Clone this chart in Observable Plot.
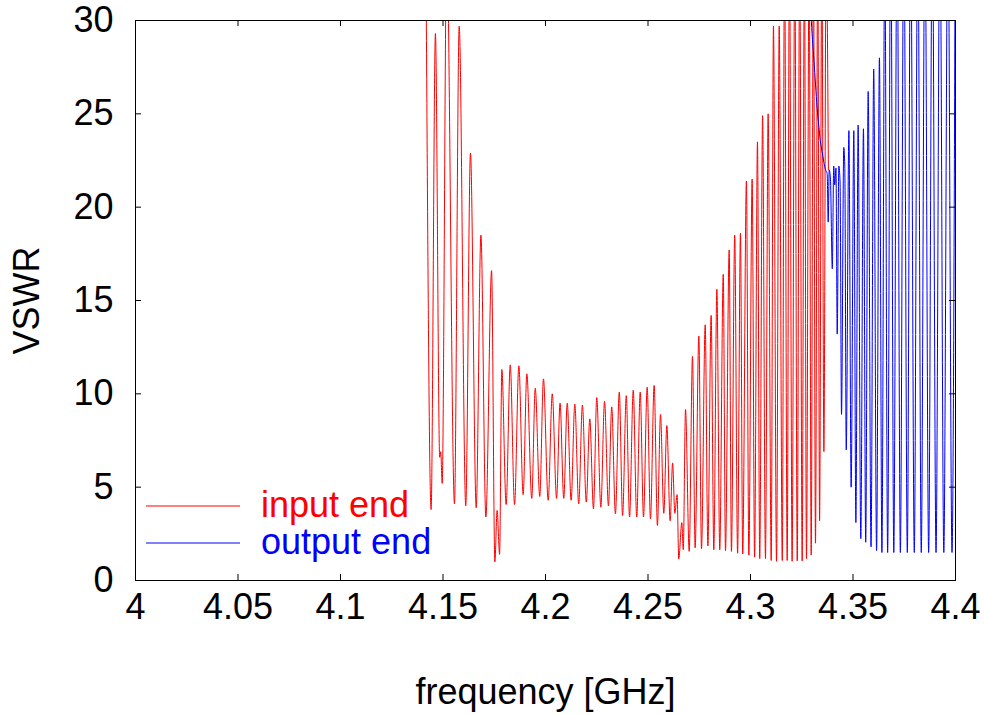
<!DOCTYPE html>
<html><head><meta charset="utf-8">
<script src="https://cdn.jsdelivr.net/npm/d3@7"></script>
<script src="https://cdn.jsdelivr.net/npm/@observablehq/plot@0.6"></script>
<style>body{margin:0;background:#fff}</style>
</head><body><div id="chart"></div>
<script>
// input end (red): frequency [GHz] of successive extrema and VSWR there
const inputFreq = [4.1417,4.1442,4.1463,4.1484,4.1489,4.1496,4.1518,4.1556,4.1579,4.1611,4.1634,4.1662,4.1685,4.1709,4.1737,4.1753,4.1764,4.1776,4.1787,4.1808,4.1828,4.1849,4.1870,4.1891,4.1909,4.1933,4.1950,4.1972,4.1990,4.2013,4.2033,4.2054,4.2071,4.2089,4.2106,4.2125,4.2143,4.2162,4.2180,4.2199,4.2216,4.2234,4.2250,4.2270,4.2288,4.2307,4.2323,4.2341,4.2360,4.2376,4.2394,4.2410,4.2428,4.2445,4.2462,4.2478,4.2496,4.2512,4.2530,4.2546,4.2561,4.2577,4.2592,4.2608,4.2620,4.2631,4.2642,4.2650,4.2665,4.2672,4.2683,4.2701,4.2717,4.2730,4.2748,4.2761,4.2779,4.2792,4.2808,4.2821,4.2836,4.2850,4.2867,4.2878,4.2896,4.2907,4.2923,4.2937,4.2951,4.2962,4.2980,4.2992,4.3008,4.3020,4.3034,4.3045,4.3059,4.3073,4.3086,4.3101,4.3112,4.3127,4.3140,4.3155,4.3166,4.3179,4.3190,4.3203,4.3216,4.3228,4.3240,4.3252,4.3263,4.3273,4.3286,4.3296,4.3307,4.3317,4.3328,4.3337,4.3348,4.3358,4.3369,4.3380];
const inputVswr = [33,3.8,29.3,6.6,6.9,5.2,34,4.1,29.7,4.0,22.9,3.9,18.5,3.4,16.6,1.0,3.75,1.4,11.3,4.07,11.55,4.07,11.5,4.6,11.07,4.4,10.3,4.5,10.8,4.3,10.0,4.4,9.5,4.4,9.5,4.3,9.45,4.1,9.4,4.2,8.66,3.84,9.8,3.93,9.6,4.0,9.3,3.57,10.1,3.48,9.9,3.4,10.2,3.4,10.1,3.4,10.36,3.3,10.45,2.95,8.9,3.6,8.3,3.2,6.3,3.6,4.6,1.16,3.1,1.65,9.16,1.56,12.0,1.75,13.1,1.7,13.7,1.85,14.2,1.65,15.6,1.65,16.4,1.6,17.7,1.56,18.5,1.46,18.6,1.42,21.4,1.36,21.5,1.25,23.5,1.17,24.9,1.17,25.0,1.07,29.7,1.03,29.7,1.07,34,1.07,34,1.03,34,1.05,34,1.05,34,1.17,34,1.36,34,2.0,34,3.2,34,6.9,34,22];
// output end (blue)
const outputFreq = [4.3295,4.3302,4.3310,4.3317,4.3325,4.3333,4.3341,4.3349,4.3358,4.3366,4.3374,4.3379,4.3384,4.3390,4.3399,4.3406,4.3411,4.3417,4.3423,4.3431,4.3437,4.3444,4.3455,4.3460,4.3467,4.3480,4.3491,4.3504,4.3514,4.3525,4.3538,4.3551,4.3562,4.3574,4.3588,4.3601,4.3615,4.3629,4.3641,4.3655,4.3669,4.3684,4.3699,4.3715,4.3731,4.3748,4.3765,4.3781,4.3799,4.3816,4.3833,4.3851,4.3869,4.3887,4.3905,4.3924,4.3943,4.3963,4.3983,4.4000];
const outputVswr = [30.3,29,27.8,26.6,25.3,24.4,23.5,23.0,22.4,22.0,21.8,19.2,22.0,21.5,16.7,22.2,21.2,22.1,13.2,22.2,21.3,8.9,23.2,22.2,7.0,24.1,5.0,24.1,3.1,24.4,2.24,24.2,2.05,26.2,1.8,27.4,1.6,28.0,1.5,34,1.5,36,1.5,36,1.5,36,1.5,36,1.5,36,1.5,36,1.5,36,1.5,36,1.5,36,1.5,40];

const xTicks = [4, 4.05, 4.1, 4.15, 4.2, 4.25, 4.3, 4.35, 4.4];
const yTicks = [0, 5, 10, 15, 20, 25, 30];
const seriesNames = ["input end", "output end"];
const seriesColors = ["#ff0000", "#0000ff"];

const inputData = inputFreq.map((f, i) => ({f, v: inputVswr[i]}));
const outputData = outputFreq.map((f, i) => ({f, v: outputVswr[i]}));

const W = 985, H = 715, mL = 135, mR = 30, mT = 20, mB = 135;
const innerW = W - mL - mR, innerH = H - mT - mB, tk = 6;
const font = "'Liberation Sans', Arial, Helvetica, sans-serif";
const fs = 36;

const chart = Plot.plot({
  width: W, height: H,
  marginLeft: mL, marginRight: mR, marginTop: mT, marginBottom: mB,
  style: {fontFamily: font, fontSize: fs + "px", background: "white", color: "black", overflow: "visible"},
  x: {domain: [4, 4.4]},
  y: {domain: [0, 30]},
  marks: [
    Plot.line(inputData, {x: "f", y: "v", stroke: seriesColors[0], strokeWidth: 1, curve: "monotone-x", clip: true}),
    Plot.line(outputData, {x: "f", y: "v", stroke: seriesColors[1], strokeWidth: 1, curve: "monotone-x", clip: true}),
    Plot.tickX(xTicks, {x: d => d, insetTop: innerH - tk, stroke: "black"}),
    Plot.tickX(xTicks, {x: d => d, insetBottom: innerH - tk, stroke: "black"}),
    Plot.tickY(yTicks, {y: d => d, insetRight: innerW - tk, stroke: "black"}),
    Plot.tickY(yTicks, {y: d => d, insetLeft: innerW - tk, stroke: "black"}),
    Plot.axisX({ticks: xTicks, tickSize: 0, tickPadding: 13, tickFormat: d => String(+d.toFixed(2)),
      label: "frequency [GHz]", labelAnchor: "center", labelOffset: 123, labelArrow: false}),
    Plot.axisY({ticks: yTicks, tickSize: 0, tickPadding: 22,
      label: "VSWR", labelAnchor: "center", labelOffset: 122, labelArrow: false}),
    Plot.frame({stroke: "black", strokeWidth: 1})
  ]
});
document.getElementById("chart").append(chart);

// legend inside the frame, lower-left (gnuplot style)
const svg = d3.select(chart.tagName === "svg" ? chart : chart.querySelector("svg"));
const lg = svg.append("g").attr("font-family", font).attr("font-size", fs).attr("text-anchor", "start");
seriesNames.forEach((name, i) => {
  const y = 506 + i * 37;
  lg.append("line").attr("x1", 146).attr("x2", 240).attr("y1", y).attr("y2", y)
    .attr("stroke", seriesColors[i]).attr("stroke-width", 1);
  lg.append("text").attr("x", 261).attr("y", y + 11).attr("fill", seriesColors[i])
    .attr("text-anchor", "start").text(name);
});
</script>
</body></html>
